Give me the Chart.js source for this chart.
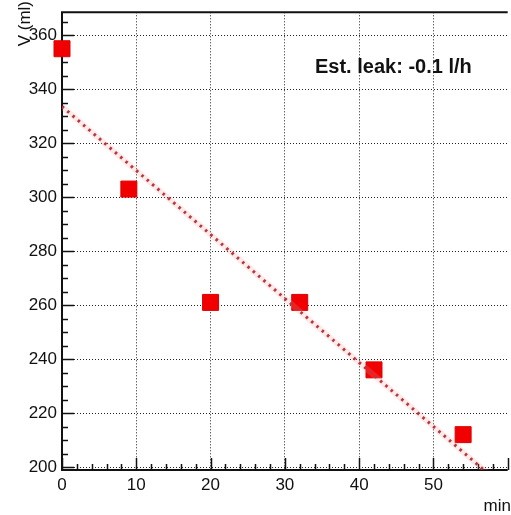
<!DOCTYPE html>
<html>
<head>
<meta charset="utf-8">
<script src="https://cdn.jsdelivr.net/npm/chart.js@4/dist/chart.umd.min.js"></script>
<style>
  html, body { margin: 0; padding: 0; background: #fff; overflow: hidden; }
  #wrap { width: 511px; height: 515px; overflow: hidden; }
</style>
</head>
<body>
<div id="wrap"><canvas id="leakChart" width="520" height="515"></canvas></div>
<script>
// MEASUREMENTS
const timeMin = [0, 9, 20, 32, 42, 54];
const volumeMl = [355, 303, 261, 261, 236, 212];

// FIT LINE (end points)
const fitTime = [0, 60];
const fitVolume = [333.6, 191.3];

// AXES
const xTicks = [0, 10, 20, 30, 40, 50];
const yTicks = [200, 220, 240, 260, 280, 300, 320, 340, 360];
const xRange = [0, 60];
const yRange = [198.9, 368.5];

const leakText = "Est. leak: -0.1 l/h";
const yTitle = "V (ml)";
const xTitle = "min";

const FONT = "'Liberation Sans', Arial, Helvetica, sans-serif";

// frame, inward tick marks and texts
const frameTicks = {
  id: "frameTicks",
  beforeDatasetsDraw(chart) {
    const { ctx, chartArea: a, scales } = chart;
    const xs = scales.x, ys = scales.y;
    ctx.save();
    ctx.strokeStyle = "#111";
    ctx.lineWidth = 1.5;

    // minor + major ticks on the x axis
    for (let v = xRange[0]; v <= xRange[1]; v += 2) {
      const px = Math.round(xs.getPixelForValue(v)) + 0.5;
      const len = v % 10 === 0 ? 12 : 6;
      ctx.beginPath();
      ctx.moveTo(px, a.bottom);
      ctx.lineTo(px, a.bottom - len);
      ctx.stroke();
    }
    // minor + major ticks on the y axis
    for (let v = 200; v <= yRange[1]; v += 5) {
      const py = Math.round(ys.getPixelForValue(v)) + 0.5;
      const len = v % 20 === 0 ? 12 : 6;
      ctx.beginPath();
      ctx.moveTo(a.left, py);
      ctx.lineTo(a.left + len, py);
      ctx.stroke();
    }

    // frame
    ctx.lineWidth = 2;
    ctx.beginPath();
    ctx.moveTo(a.right, a.top);
    ctx.lineTo(a.left, a.top);
    ctx.lineTo(a.left, a.bottom);
    ctx.lineTo(a.right, a.bottom);
    ctx.stroke();

    // texts
    ctx.fillStyle = "#111";
    ctx.font = "bold 20px " + FONT;
    ctx.textAlign = "left";
    ctx.textBaseline = "alphabetic";
    ctx.fillText(leakText, 315, 73);

    ctx.font = "17px " + FONT;
    ctx.textAlign = "right";
    ctx.fillText(xTitle, 511, 511);

    ctx.save();
    ctx.translate(30, 1);
    ctx.rotate(-Math.PI / 2);
    ctx.textAlign = "right";
    ctx.fillText(yTitle, 0, 0);
    ctx.restore();

    ctx.restore();
  }
};

const gridStyle = { color: "#222", lineWidth: 1, drawTicks: false };

const fitPoints = fitTime.map((t, i) => ({ x: t, y: fitVolume[i] }));

const chart = new Chart(document.getElementById("leakChart"), {
  type: "scatter",
  data: {
    datasets: [
      {
        // soft halo under the dotted fit line
        type: "line",
        label: "fit halo",
        data: fitPoints,
        borderColor: "rgba(255, 150, 150, 0.2)",
        borderWidth: 6,
        pointRadius: 0,
        fill: false,
        clip: 0
      },
      {
        type: "line",
        label: "fit",
        data: fitPoints,
        borderColor: "#a3212a",
        borderWidth: 3,
        borderDash: [2.5, 4.5],
        pointRadius: 0,
        fill: false,
        clip: 0
      },
      {
        label: "V",
        data: timeMin.map((t, i) => ({ x: t, y: volumeMl[i] })),
        backgroundColor: "#f00000",
        borderColor: "#e00000",
        borderWidth: 1,
        pointStyle: "rect",
        pointRadius: 11.3,
        pointHoverRadius: 11.3,
        clip: false
      }
    ]
  },
  options: {
    responsive: false,
    animation: false,
    events: [],
    layout: { padding: { top: 8, right: 4, left: 0, bottom: 0 } },
    plugins: { legend: { display: false }, tooltip: { enabled: false } },
    scales: {
      x: {
        type: "linear",
        min: xRange[0],
        max: xRange[1],
        afterBuildTicks: (s) => { s.ticks = xTicks.map(v => ({ value: v })); },
        afterFit: (s) => { s.height = 45; s.paddingLeft = 0; s.paddingRight = 0; },
        grid: gridStyle,
        border: { display: false, dash: [1, 2] },
        ticks: {
          color: "#111",
          padding: 5,
          maxRotation: 0,
          autoSkip: false,
          font: { family: FONT, size: 17 }
        }
      },
      y: {
        type: "linear",
        min: yRange[0],
        max: yRange[1],
        afterBuildTicks: (s) => { s.ticks = yTicks.map(v => ({ value: v })); },
        afterFit: (s) => { s.width = 62; s.paddingTop = 0; s.paddingBottom = 0; },
        grid: gridStyle,
        border: { display: false, dash: [1, 2] },
        ticks: {
          color: "#111",
          padding: 5,
          autoSkip: false,
          font: { family: FONT, size: 17 }
        }
      }
    }
  },
  plugins: [frameTicks]
});
</script>
</body>
</html>
